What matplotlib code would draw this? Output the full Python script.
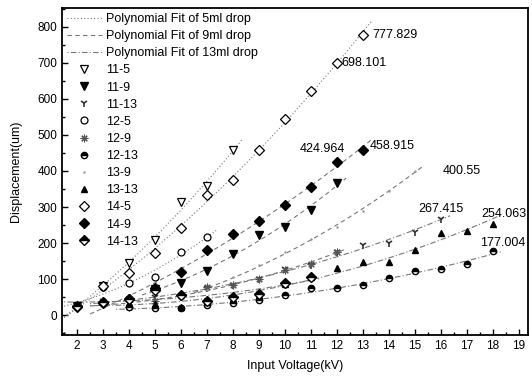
import numpy as np
import matplotlib.pyplot as plt
from matplotlib.lines import Line2D
from matplotlib.ticker import MultipleLocator

plt.rcParams['font.family'] = ['Liberation Sans', 'DejaVu Sans']

# displacement (um) against input voltage (kV)
x_11_5 = [2, 3, 4, 5, 6, 7, 8]
y_11_5 = [25, 82, 144, 208, 315, 358, 458]

x_11_9 = [5, 6, 7, 8, 9, 10, 11, 12]
y_11_9 = [72, 90, 122, 171, 222, 245, 292, 367]

x_11_13 = [3, 4, 5, 6, 7, 8, 9, 10, 11, 12, 13, 14, 15, 16]
y_11_13 = [38, 46, 50, 49, 74, 83, 99, 127, 139, 176, 194, 199, 231, 267.415]

x_12_5 = [2, 3, 4, 5, 6, 7]
y_12_5 = [25, 78, 90, 106, 176, 217]

x_12_9 = [3, 4, 5, 6, 7, 8, 9, 10, 11, 12]
y_12_9 = [36, 23, 40, 52, 79, 85, 101, 125, 143, 176]

x_12_13 = [4, 5, 6, 7, 8, 9, 10, 11, 12, 13, 14, 15, 16, 17, 18]
y_12_13 = [22, 19, 19, 28, 34, 42, 56, 74, 74, 83, 102, 123, 127, 142, 177.004]

x_13_9 = [7, 8, 9, 10, 11, 12, 13, 14, 15]
y_13_9 = [70, 105, 140, 175, 210, 245, 290, 345, 400.55]

x_13_13 = [3, 4, 5, 6, 7, 8, 9, 10, 11, 12, 13, 14, 15, 16, 17, 18]
y_13_13 = [38, 35, 30, 23, 43, 45, 56, 86, 106, 130, 148, 148, 181, 229, 234, 254.063]

x_14_5 = [2, 3, 4, 5, 6, 7, 8, 9, 10, 11, 12, 13]
y_14_5 = [23, 80, 117, 172, 242, 333, 375, 458, 544, 623, 698.101, 777.829]

x_14_9 = [3, 4, 5, 6, 7, 8, 9, 10, 11, 12, 13]
y_14_9 = [34, 46, 74, 120, 180, 225, 261, 305, 355, 424.964, 458.915]

x_14_13 = [2, 3, 4, 5, 6, 7, 8, 9, 10, 11]
y_14_13 = [25, 36, 45, 70, 55, 40, 50, 60, 88, 107]

# line style of the polynomial fit per drop volume
fit_styles = {
    '5ml': (0, (1, 2)),
    '9ml': (0, (4, 3)),
    '13ml': (0, (1, 2, 5, 2)),
}

series = [
    ('11-5', x_11_5, y_11_5, '5ml', dict(marker='v', mfc='white', mec='k', ms=5.5, mew=0.9)),
    ('11-9', x_11_9, y_11_9, '9ml', dict(marker='v', mfc='k', mec='k', ms=5.5)),
    ('11-13', x_11_13, y_11_13, '13ml', dict(marker='1', mec='#333333', ms=6, mew=1.2)),
    ('12-5', x_12_5, y_12_5, '5ml', dict(marker='o', mfc='white', mec='k', ms=5, mew=0.9)),
    ('12-9', x_12_9, y_12_9, '9ml', dict(marker=(8, 2, 0), mec='#555555', ms=5.5, mew=0.8)),
    ('12-13', x_12_13, y_12_13, '13ml', dict(marker='o', fillstyle='top', mfc='k', mfcalt='white', mec='k', ms=4.5)),
    ('13-9', x_13_9, y_13_9, '9ml', dict(marker='.', mfc='#999999', mec='#999999', ms=1.5)),
    ('13-13', x_13_13, y_13_13, '13ml', dict(marker='^', mfc='k', mec='k', ms=4)),
    ('14-5', x_14_5, y_14_5, '5ml', dict(marker='D', mfc='white', mec='k', ms=5, mew=0.9)),
    ('14-9', x_14_9, y_14_9, '9ml', dict(marker='D', mfc='k', mec='k', ms=5)),
    ('14-13', x_14_13, y_14_13, '13ml', dict(marker='D', fillstyle='top', mfc='k', mfcalt='white', mec='k', ms=5)),
]

fig = plt.figure(figsize=(5.32, 3.78), dpi=100)
ax = fig.add_axes([0.1165, 0.1138, 0.876, 0.865])

# fitted curves first, then the measured points on top
for name, xs, ys, drop, style in series:
    coef = np.polyfit(xs, ys, 2)
    xf = np.linspace(min(xs) - 0.5, max(xs) + 0.35, 100)
    ax.plot(xf, np.polyval(coef, xf), color='#777777', lw=0.8, ls=fit_styles[drop])

for name, xs, ys, drop, style in series:
    ax.plot(xs, ys, ls='none', **style)

# values written beside the last points
ax.annotate(f'{y_14_5[-1]:g}', (x_14_5[-1], y_14_5[-1]), xytext=(7, 0),
            textcoords='offset points', ha='left', va='center', fontsize=9)
ax.annotate(f'{y_14_5[-2]:g}', (x_14_5[-2], y_14_5[-2]), xytext=(3, 0),
            textcoords='offset points', ha='left', va='center', fontsize=9)
ax.annotate(f'{y_14_9[-2]:g}', (x_14_9[-2], y_14_9[-2]), xytext=(6, 9),
            textcoords='offset points', ha='right', va='center', fontsize=9)
ax.annotate(f'{y_14_9[-1]:g}', (x_14_9[-1], y_14_9[-1]), xytext=(5, 3),
            textcoords='offset points', ha='left', va='center', fontsize=9)
ax.annotate(f'{y_13_9[-1]:g}', (x_13_9[-1], y_13_9[-1]), xytext=(20, 0),
            textcoords='offset points', ha='left', va='center', fontsize=9)
ax.annotate(f'{y_11_13[-1]:g}', (x_11_13[-1], y_11_13[-1]), xytext=(0, 7),
            textcoords='offset points', ha='center', va='center', fontsize=9)
ax.annotate(f'{y_13_13[-1]:g}', (x_13_13[-1], y_13_13[-1]), xytext=(8, 7),
            textcoords='offset points', ha='center', va='center', fontsize=9)
ax.annotate(f'{y_12_13[-1]:g}', (x_12_13[-1], y_12_13[-1]), xytext=(7, 6),
            textcoords='offset points', ha='center', va='center', fontsize=9)

ax.set_xlim(1.42, 19.35)
ax.set_ylim(-55, 852)
ax.xaxis.set_major_locator(MultipleLocator(1))
ax.xaxis.set_minor_locator(MultipleLocator(0.5))
ax.yaxis.set_major_locator(MultipleLocator(100))
ax.yaxis.set_minor_locator(MultipleLocator(50))
ax.tick_params(which='both', direction='in', top=False, right=False, labelsize=8.5)
ax.tick_params(which='major', length=4, width=1)
ax.tick_params(which='minor', length=2.5, width=1)
for sp in ax.spines.values():
    sp.set_linewidth(1.3)

ax.set_xlabel('Input Voltage(kV)', fontsize=9, labelpad=6)
ax.set_ylabel('Displacement(um)', fontsize=9, labelpad=11)

# legend: three fit styles followed by the eleven point sets
handles = [Line2D([], [], color='#777777', lw=0.8, ls=fit_styles[d]) for d in ['5ml', '9ml', '13ml']]
labels = ['Polynomial Fit of 5ml drop', 'Polynomial Fit of 9ml drop', 'Polynomial Fit of 13ml drop']
for name, xs, ys, drop, style in series:
    handles.append(Line2D([], [], ls='none', **style))
    labels.append(name)
ax.legend(handles, labels, loc='upper left', bbox_to_anchor=(0.0, 1.0), frameon=False,
          fontsize=9, labelspacing=0.41, handlelength=2.8, handletextpad=0.3,
          borderaxespad=0.3, borderpad=0.1)

fig.savefig('out.png', dpi=100)
